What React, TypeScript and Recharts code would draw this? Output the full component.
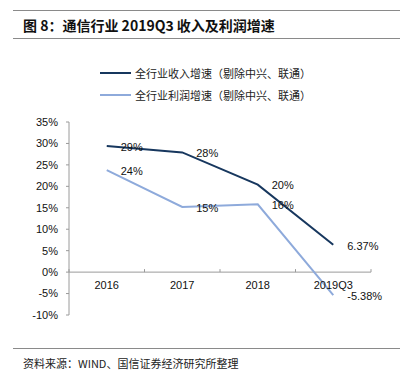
import { LineChart, Line, XAxis, YAxis, ReferenceLine, LabelList } from "recharts"

const categories = ["2016", "2017", "2018", "2019Q3"]
const incomeGrowth = [29.4, 27.9, 20.4, 6.37]
const profitGrowth = [23.8, 15.2, 15.8, -5.38]
const yTicks = [-10, -5, 0, 5, 10, 15, 20, 25, 30, 35]

const incomeName = "全行业收入增速（剔除中兴、联通）"
const profitName = "全行业利润增速（剔除中兴、联通）"

const data = categories.map((c, i) => ({
  name: c,
  income: incomeGrowth[i],
  profit: profitGrowth[i],
}))

const DARK = "#17375e"
const LIGHT = "#8eaadb"
const AXIS = "#9a9a9a"
const FONT = '"Liberation Sans", Arial, "Noto Sans CJK SC", sans-serif'
const CJK = '"Noto Sans CJK SC", "Liberation Sans", sans-serif'

const W = 418
const H = 378
const M = { top: 122, right: 47, bottom: 43, left: 0 }
const plotW = W - 69 - M.right
const plotH = H - M.top - M.bottom - 20
const zeroOffset = (plotH * 10) / 45
const band = plotW / categories.length

const fmt = (v: number, i: number) =>
  i === categories.length - 1 ? `${v.toFixed(2)}%` : `${v.toFixed(0)}%`

function XTick(props: any) {
  const { x, y, payload, index } = props
  const zeroY = y - zeroOffset
  return (
    <g>
      <line x1={x - band / 2} x2={x - band / 2} y1={zeroY} y2={zeroY - 3} stroke={AXIS} />
      {index === categories.length - 1 && (
        <line x1={x + band / 2} x2={x + band / 2} y1={zeroY} y2={zeroY - 3} stroke={AXIS} />
      )}
      <text x={x} y={zeroY + 13} dy="0.35em" textAnchor="middle" fontSize={11} fill="#111" fontFamily={FONT}>
        {payload.value}
      </text>
    </g>
  )
}

function PointLabel(props: any) {
  const { x, y, value, index } = props
  return (
    <text x={x + 14} y={y + 1} dy="0.35em" textAnchor="start" fontSize={11} fill="#111" fontFamily={FONT}>
      {fmt(Number(value), index)}
    </text>
  )
}

const rule = (top: number) => (
  <div style={{ position: "absolute", left: 13, top, width: 387, height: 1, background: "#8a8a8a" }} />
)

export default function App() {
  return (
    <div style={{ position: "absolute", left: 0, top: 0, width: W, height: H, background: "#fff", overflow: "hidden" }}>
      <div style={{ position: "absolute", left: 0, top: 0 }}>
        <LineChart width={W} height={H} data={data} margin={M}>
          <XAxis
            dataKey="name"
            height={20}
            axisLine={false}
            tickLine={false}
            tickSize={0}
            tickMargin={0}
            tick={<XTick />}
            interval={0}
            padding={{ left: band / 2, right: band / 2 }}
          />
          <YAxis
            width={69}
            domain={[-10, 35]}
            ticks={yTicks}
            interval={0}
            tickFormatter={(v: number) => `${v}%`}
            axisLine={{ stroke: AXIS }}
            tickLine={{ stroke: AXIS }}
            tickSize={3}
            tickMargin={8}
            tick={{ fontSize: 11, fill: "#111", fontFamily: FONT }}
          />
          <ReferenceLine y={0} stroke={AXIS} strokeWidth={1} />
          <Line
            dataKey="income"
            stroke={DARK}
            strokeWidth={2}
            dot={false}
            isAnimationActive={false}
          >
            <LabelList dataKey="income" content={<PointLabel />} />
          </Line>
          <Line
            dataKey="profit"
            stroke={LIGHT}
            strokeWidth={2}
            dot={false}
            isAnimationActive={false}
          >
            <LabelList dataKey="profit" content={<PointLabel />} />
          </Line>
        </LineChart>
      </div>

      {rule(10)}
      <div
        style={{
          position: "absolute",
          left: 23,
          top: 16,
          fontSize: 14,
          fontWeight: "bold",
          fontFamily: CJK,
          lineHeight: "18px",
          color: "#111",
          whiteSpace: "nowrap",
        }}
      >
        图 8：通信行业 2019Q3 收入及利润增速
      </div>
      {rule(38)}

      {[
        { name: incomeName, color: DARK, top: 73 },
        { name: profitName, color: LIGHT, top: 95 },
      ].map((s) => (
        <div key={s.name} style={{ position: "absolute", left: 100, top: s.top - 8, height: 16, display: "flex", alignItems: "center" }}>
          <div style={{ width: 31, height: 2, background: s.color }} />
          <span style={{ marginLeft: 4, fontSize: 11, fontFamily: CJK, color: "#222", whiteSpace: "nowrap" }}>
            {s.name}
          </span>
        </div>
      ))}

      {rule(348)}
      <div
        style={{
          position: "absolute",
          left: 23,
          top: 355,
          fontSize: 11,
          fontFamily: CJK,
          lineHeight: "16px",
          color: "#222",
          whiteSpace: "nowrap",
        }}
      >
        资料来源：WIND、国信证券经济研究所整理
      </div>
    </div>
  )
}
